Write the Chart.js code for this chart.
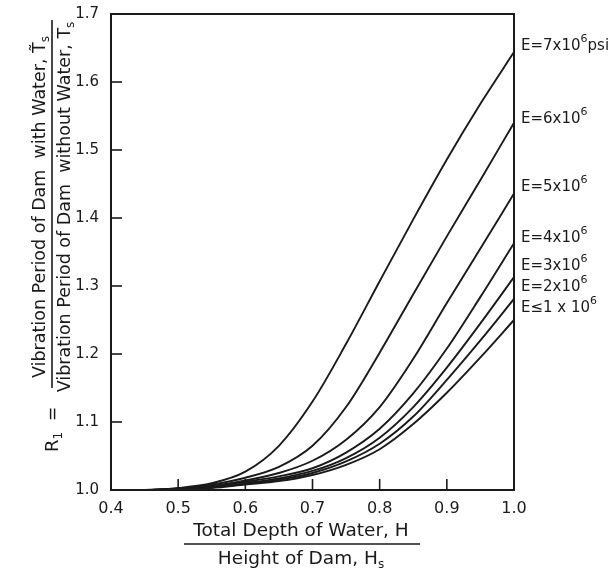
<!DOCTYPE html>
<html lang="en">
<head>
  <meta charset="UTF-8" />
  <title>Vibration Period Ratio vs Depth of Water</title>
  <script src="https://cdn.jsdelivr.net/npm/chart.js"></script>
  <style>
    html, body {
      margin: 0;
      padding: 0;
      background: #fff;
    }
    #wrap {
      width: 616px;
      height: 571px;
    }
  </style>
</head>
<body>
  <div id="wrap"><canvas id="damChart" width="616" height="571"></canvas></div>

  <script>
    // H / Hs
    const depthRatio = [0.40, 0.45, 0.50, 0.55, 0.60, 0.65, 0.70, 0.75, 0.80, 0.85, 0.90, 0.95, 1.00];

    // R1 for each modulus of elasticity (psi)
    const rE7 = [1.000, 1.000, 1.003, 1.010, 1.027, 1.065, 1.130, 1.215, 1.307, 1.398, 1.486, 1.568, 1.644];
    const rE6 = [1.000, 1.000, 1.002, 1.008, 1.018, 1.034, 1.065, 1.122, 1.202, 1.288, 1.373, 1.456, 1.540];
    const rE5 = [1.000, 1.000, 1.002, 1.006, 1.014, 1.025, 1.043, 1.074, 1.122, 1.193, 1.275, 1.355, 1.436];
    const rE4 = [1.000, 1.000, 1.001, 1.005, 1.012, 1.020, 1.032, 1.055, 1.090, 1.142, 1.208, 1.284, 1.363];
    const rE3 = [1.000, 1.000, 1.001, 1.004, 1.010, 1.017, 1.028, 1.047, 1.077, 1.122, 1.180, 1.245, 1.313];
    const rE2 = [1.000, 1.000, 1.001, 1.004, 1.009, 1.015, 1.025, 1.042, 1.068, 1.108, 1.162, 1.220, 1.281];
    const rE1 = [1.000, 1.000, 1.001, 1.003, 1.008, 1.013, 1.022, 1.037, 1.060, 1.097, 1.143, 1.195, 1.250];

    const seriesNames = ["E=7x10^6psi", "E=6x10^6", "E=5x10^6", "E=4x10^6", "E=3x10^6", "E=2x10^6", "E≤1x10^6"];
    const xTickValues = [0.4, 0.5, 0.6, 0.7, 0.8, 0.9, 1.0];
    const yTickValues = [1.0, 1.1, 1.2, 1.3, 1.4, 1.5, 1.6, 1.7];

    const allSeries = [rE7, rE6, rE5, rE4, rE3, rE2, rE1];
    // end label text pieces: [base, superscript, suffix]
    const labelParts = [
      ["E=7x10", "6", "psi"],
      ["E=6x10", "6", ""],
      ["E=5x10", "6", ""],
      ["E=4x10", "6", ""],
      ["E=3x10", "6", ""],
      ["E=2x10", "6", ""],
      ["E≤1 x 10", "6", ""]
    ];
    const labelNudge = [-8, -6, -8, -7, -13, -14, -14];

    const FONT = "'DejaVu Sans', sans-serif";
    const INK = "#1a1a1a";

    function drawPieces(ctx, x, y, pieces) {
      // pieces: [text, size, dy]
      pieces.forEach(p => {
        ctx.font = p[1] + "px " + FONT;
        ctx.fillText(p[0], x, y + p[2]);
        x += ctx.measureText(p[0]).width;
      });
    }

    function piecesWidth(ctx, pieces) {
      let w = 0;
      pieces.forEach(p => {
        ctx.font = p[1] + "px " + FONT;
        w += ctx.measureText(p[0]).width;
      });
      return w;
    }

    const decorations = {
      id: "decorations",
      afterDatasetsDraw(chart) {
        const { ctx, chartArea, scales } = chart;
        const xs = scales.x, ys = scales.y;
        ctx.save();
        ctx.strokeStyle = INK;
        ctx.fillStyle = INK;

        // frame
        ctx.lineWidth = 2;
        ctx.strokeRect(chartArea.left, chartArea.top, chartArea.right - chartArea.left, chartArea.bottom - chartArea.top);

        // inward ticks
        ctx.lineWidth = 1.6;
        xTickValues.slice(1, -1).forEach(v => {
          const px = xs.getPixelForValue(v);
          ctx.beginPath();
          ctx.moveTo(px, chartArea.bottom);
          ctx.lineTo(px, chartArea.bottom - 11);
          ctx.stroke();
        });
        yTickValues.slice(1, -1).forEach(v => {
          const py = ys.getPixelForValue(v);
          ctx.beginPath();
          ctx.moveTo(chartArea.left, py);
          ctx.lineTo(chartArea.left + 11, py);
          ctx.stroke();
        });

        // curve labels on the right
        ctx.textAlign = "left";
        ctx.textBaseline = "middle";
        allSeries.forEach((s, i) => {
          const py = ys.getPixelForValue(s[s.length - 1]) + labelNudge[i];
          const parts = labelParts[i];
          drawPieces(ctx, chartArea.right + 7, py, [[parts[0], 15, 2], [parts[1], 11, -5], [parts[2], 15, 2]]);
        });

        // x axis title (fraction)
        ctx.textAlign = "left";
        ctx.textBaseline = "alphabetic";
        const cx = 301;
        const num = [["Total Depth of Water, H", 18.5, 0]];
        const den = [["Height of Dam, H", 18.5, 0], ["s", 12, 4]];
        drawPieces(ctx, cx - piecesWidth(ctx, num) / 2, 536, num);
        drawPieces(ctx, cx - piecesWidth(ctx, den) / 2, 564, den);
        ctx.lineWidth = 1.6;
        ctx.beginPath();
        ctx.moveTo(184, 544);
        ctx.lineTo(420, 544);
        ctx.stroke();

        // y axis title (rotated fraction)
        ctx.save();
        ctx.rotate(-Math.PI / 2);
        // in rotated frame: x' = -y, y' = x
        const cy = 207;
        const yNum = [["Vibration Period of Dam  with Water, T\u0303", 17.5, 0], ["s", 12, 4]];
        const yDen = [["Vibration Period of Dam  without Water, T", 17.5, 0], ["s", 12, 4]];
        drawPieces(ctx, -cy - piecesWidth(ctx, yNum) / 2, 45, yNum);
        drawPieces(ctx, -cy - piecesWidth(ctx, yDen) / 2, 70, yDen);
        ctx.beginPath();
        ctx.moveTo(-20, 52);
        ctx.lineTo(-388, 52);
        ctx.stroke();
        const rEq = [["R", 18, 0], ["1", 12, 4], ["  =", 17, 0]];
        drawPieces(ctx, -452, 58, rEq);
        ctx.restore();

        ctx.restore();
      }
    };

    const ctx = document.getElementById("damChart").getContext("2d");

    new Chart(ctx, {
      type: "line",
      data: {
        datasets: allSeries.map((s, i) => ({
          label: seriesNames[i],
          data: depthRatio.map((d, j) => ({ x: d, y: s[j] })),
          borderColor: INK,
          borderWidth: 1.9,
          pointRadius: 0,
          fill: false,
          cubicInterpolationMode: "monotone"
        }))
      },
      options: {
        responsive: false,
        animation: false,
        layout: {
          padding: { top: 14, right: 102, left: 0, bottom: 0 }
        },
        plugins: {
          legend: { display: false },
          tooltip: { enabled: false }
        },
        scales: {
          x: {
            type: "linear",
            min: 0.4,
            max: 1.0,
            afterBuildTicks: axis => { axis.ticks = xTickValues.map(v => ({ value: v })); },
            afterFit: axis => { axis.height = 81; },
            grid: { display: false },
            border: { display: false },
            ticks: {
              color: INK,
              padding: 1,
              maxRotation: 0,
              font: { family: FONT, size: 16 },
              callback: v => v.toFixed(1)
            }
          },
          y: {
            type: "linear",
            min: 1.0,
            max: 1.7,
            afterBuildTicks: axis => { axis.ticks = yTickValues.map(v => ({ value: v })); },
            afterFit: axis => { axis.width = 111; },
            grid: { display: false },
            border: { display: false },
            ticks: {
              color: INK,
              padding: 4,
              font: { family: FONT, size: 15 },
              callback: v => v.toFixed(1)
            }
          }
        }
      },
      plugins: [decorations]
    });
  </script>
</body>
</html>
